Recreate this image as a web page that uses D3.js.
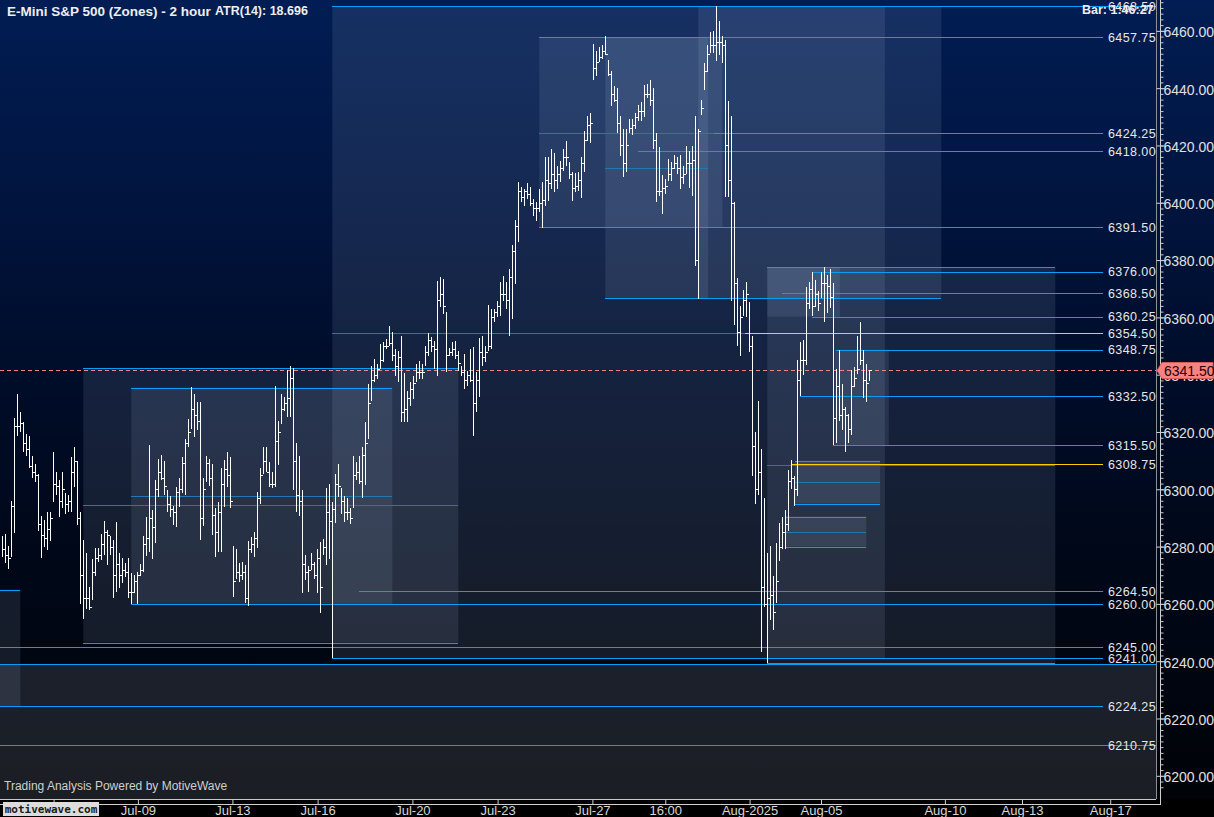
<!DOCTYPE html>
<html><head><meta charset="utf-8">
<script src="https://cdn.jsdelivr.net/npm/d3@7/dist/d3.min.js"></script>
<style>html,body{margin:0;padding:0;background:#000;overflow:hidden}</style>
</head><body>
<script>
// ---------- DATA ----------
const highs=[6283.8,6284.5,6280.3,6296.0,6324.8,6333.2,6326.9,6323.4,6319.2,6318.5,
6311.5,6308.7,6305.5,6290.8,6289.4,6292.2,6291.9,6312.9,6305.9,6303.4,
6305.9,6298.8,6298.1,6311.1,6314.9,6309.7,6292.2,6282.4,6277.9,6266.0,
6275.8,6279.6,6279.6,6284.5,6289.1,6285.9,6283.8,6282.4,6288.7,6277.9,
6276.1,6274.4,6276.1,6270.9,6270.2,6271.2,6274.0,6283.8,6290.5,6315.3,
6292.9,6303.4,6310.4,6311.8,6309.7,6299.9,6297.8,6294.3,6300.9,6303.8,
6311.1,6317.4,6324.4,6335.6,6333.2,6330.4,6330.4,6303.8,6311.5,6310.4,
6308.7,6293.6,6295.4,6307.6,6310.1,6312.9,6311.1,6280.3,6279.3,6274.4,
6274.7,6273.6,6282.1,6283.5,6285.2,6299.2,6307.6,6314.9,6314.6,6309.4,
6305.9,6335.9,6323.7,6333.2,6332.1,6341.6,6343.0,6342.3,6316.0,6311.5,
6299.9,6277.1,6273.3,6277.9,6274.7,6279.3,6281.7,6282.8,6300.6,6302.0,
6295.4,6305.2,6308.7,6300.6,6297.8,6297.1,6293.6,6311.5,6309.4,6311.5,
6314.6,6323.4,6336.6,6343.0,6345.4,6343.7,6350.6,6351.3,6352.4,6356.9,
6354.8,6348.9,6348.2,6353.4,6340.5,6334.2,6337.4,6339.4,6343.7,6344.7,
6343.7,6349.9,6354.5,6353.1,6351.7,6372.7,6374.1,6373.4,6361.9,6349.2,
6351.3,6351.7,6348.2,6343.0,6347.2,6341.2,6348.9,6349.6,6340.9,6352.7,
6353.4,6349.9,6364.3,6362.9,6362.9,6365.7,6372.4,6374.5,6372.4,6376.9,
6385.3,6394.0,6407.4,6405.6,6404.9,6407.0,6405.6,6401.4,6400.4,6404.9,
6407.4,6415.8,6415.8,6418.6,6417.2,6413.0,6414.7,6418.9,6421.4,6414.4,
6410.9,6410.5,6410.9,6416.1,6424.9,6430.4,6431.2,6455.3,6452.9,6454.2,
6454.9,6458.1,6449.7,6445.9,6440.6,6440.2,6430.4,6425.6,6425.9,6429.4,
6429.1,6431.2,6434.0,6435.0,6441.0,6441.3,6442.7,6440.2,6424.2,6419.6,
6409.8,6408.4,6415.1,6414.4,6416.5,6415.8,6416.5,6413.0,6419.9,6418.2,
6419.9,6430.4,6425.9,6435.7,6448.7,6454.9,6459.5,6459.9,6468.5,6463.4,
6458.1,6456.7,6435.4,6430.4,6400.4,6373.8,6363.9,6369.6,6372.4,6365.3,
6353.4,6319.9,6330.7,6314.2,6297.1,6277.9,6280.3,6269.8,6281.4,6288.4,
6290.5,6292.9,6306.6,6310.1,6304.8,6345.0,6351.3,6352.0,6370.6,6372.4,
6375.9,6373.1,6369.2,6375.9,6377.6,6374.8,6376.9,6372.0,6341.9,6348.6,
6336.6,6328.6,6326.2,6341.6,6342.6,6353.4,6358.4,6348.6,6343.7,6341.6];
const lows=[6276.4,6274.4,6272.3,6276.4,6284.9,6318.5,6319.9,6312.9,6311.5,6307.6,
6304.1,6302.4,6285.6,6276.1,6279.9,6278.9,6282.1,6295.4,6298.1,6290.5,
6293.6,6291.2,6291.9,6292.2,6300.9,6287.7,6260.0,6254.8,6258.3,6257.9,
6261.4,6269.8,6274.7,6275.4,6277.1,6273.6,6277.1,6262.1,6264.2,6265.6,
6267.4,6269.5,6262.1,6260.0,6263.9,6260.0,6269.8,6271.2,6276.8,6278.2,
6275.8,6281.4,6297.4,6303.1,6298.1,6291.9,6290.5,6287.7,6286.9,6293.9,
6298.8,6298.1,6314.6,6320.9,6318.1,6320.6,6282.4,6287.3,6302.7,6301.3,
6284.2,6276.4,6278.2,6278.2,6293.9,6300.9,6293.3,6262.4,6268.8,6267.7,
6268.4,6260.3,6259.3,6277.9,6276.4,6279.6,6294.7,6305.2,6305.9,6300.9,
6300.6,6300.9,6308.3,6322.7,6327.2,6325.1,6325.1,6299.9,6291.9,6290.8,
6263.9,6268.4,6264.2,6271.9,6268.8,6263.9,6256.9,6277.1,6273.6,6275.8,
6241.0,6288.4,6297.4,6291.2,6288.7,6289.4,6288.0,6293.3,6303.4,6302.0,
6297.1,6301.6,6317.4,6330.7,6337.4,6338.4,6341.9,6344.4,6348.9,6349.9,
6344.7,6339.4,6337.4,6323.4,6323.4,6323.4,6328.9,6331.4,6337.4,6338.4,
6338.4,6342.9,6346.5,6347.9,6341.9,6339.4,6363.6,6361.2,6340.9,6346.5,
6346.5,6345.4,6341.2,6339.4,6334.9,6335.9,6337.4,6318.5,6326.9,6332.1,
6343.0,6344.4,6348.2,6348.9,6358.4,6360.1,6360.5,6365.7,6362.9,6353.4,
6359.4,6371.7,6386.4,6400.4,6398.9,6401.4,6398.9,6395.5,6393.7,6396.8,
6391.3,6398.9,6400.7,6404.9,6403.9,6404.9,6407.4,6411.2,6413.0,6408.4,
6400.7,6403.9,6404.2,6401.8,6410.9,6421.4,6421.0,6442.7,6444.1,6449.3,
6450.1,6451.4,6444.1,6433.9,6435.0,6424.5,6416.4,6409.1,6410.9,6424.2,
6423.5,6425.9,6428.7,6428.4,6429.8,6436.4,6433.9,6418.9,6400.4,6402.4,
6396.1,6403.2,6407.7,6407.7,6411.9,6410.2,6404.9,6406.6,6410.2,6405.3,
6402.4,6377.9,6366.4,6430.8,6439.2,6445.5,6452.2,6452.2,6449.4,6451.4,
6448.7,6402.1,6402.1,6365.7,6357.3,6350.0,6346.5,6360.5,6360.1,6347.9,
6304.5,6294.7,6298.1,6243.2,6258.9,6239.5,6254.4,6250.9,6260.4,6275.1,
6279.3,6279.3,6285.6,6300.2,6294.3,6297.8,6332.4,6339.8,6343.3,6362.9,
6360.5,6363.6,6362.2,6366.8,6358.4,6361.5,6363.3,6315.6,6316.3,6323.7,
6320.6,6312.9,6316.0,6318.8,6335.6,6340.2,6343.3,6331.7,6330.4,6337.7];
const closes=[6279,6277,6276,6294,6322,6322,6323,6316,6314,6308,
6306,6305,6288,6284,6283,6286,6290,6302,6301,6296,
6300,6295,6296,6306,6310,6290,6270,6262,6262,6259,
6271,6276,6277,6281,6285,6284,6280,6270,6274,6270,
6272,6271,6264,6264,6268,6270,6272,6281,6283,6290,
6287,6300,6306,6304,6301,6295,6293,6292,6299,6300,
6309,6316,6320,6328,6326,6324,6290,6300,6309,6304,
6291,6285,6292,6302,6307,6305,6296,6268,6271,6270,
6271,6262,6279,6281,6283,6297,6305,6310,6306,6302,
6302,6317,6320,6328,6330,6332,6339,6310,6298,6296,
6274,6271,6272,6274,6270,6276,6266,6280,6292,6289,
6293,6302,6301,6296,6292,6292,6290,6305,6306,6303,
6312,6316,6330,6338,6340,6342,6345,6350,6350,6351,
6347,6343,6346,6327,6328,6332,6335,6337,6341,6341,
6341,6348,6352,6350,6349,6366,6368,6364,6347,6348,
6349,6347,6344,6341,6338,6340,6338,6330,6338,6348,
6346,6348,6350,6360,6362,6364,6368,6368,6366,6374,
6383,6392,6404,6402,6404,6403,6400,6398,6398,6400,
6401,6408,6407,6410,6408,6410,6412,6416,6416,6410,
6405,6406,6408,6414,6422,6427,6428,6447,6449,6451,
6453,6452,6445,6438,6436,6428,6420,6414,6420,6426,
6427,6430,6432,6432,6438,6438,6436,6422,6404,6404,
6405,6406,6410,6412,6414,6412,6409,6410,6414,6414,
6415,6380,6425,6433,6446,6452,6455,6455,6456,6456,
6455,6420,6408,6400,6372,6355,6360,6366,6368,6350,
6315,6300,6306,6266,6260,6262,6263,6257,6268,6280,
6285,6288,6303,6304,6300,6338,6345,6345,6365,6370,
6364,6368,6365,6372,6372,6371,6367,6325,6336,6326,
6328,6326,6321,6336,6339,6342,6345,6338,6337,6341.5];

// x-axis ticks (bar index) and labels
const xTickIdx=[17.1,45.2,76.7,105.1,136.7,165.1,196.7,221.0,249.1,272.9,314.2,339.9,369.3];
const xTickLabels=["Jul-06","Jul-09","Jul-13","Jul-16","Jul-20","Jul-23","Jul-27","16:00","Aug-2025","Aug-05","Aug-10","Aug-13","Aug-17"];
const yTickValues=d3.range(6200,6461,20);
const yMinorValues=d3.range(6196,6472,2);

// zones: [startBar, endBar, top, bottom]
const zones=[
 [27,152,6342.25,6246.5],
 [43,130,6335.5,6260],
 [110,294.2,6468.5,6241],
 [179,240,6457.75,6391.5],
 [201,235.3,6457.75,6366.75],
 [232,313,6468.5,6366.75],
 [255,351,6377.5,6239.35],
 [255,279.2,6377.5,6360.25],
 [277.6,295.5,6348.75,6315.5],
 [264.2,292.6,6310,6295],
 [261,288,6290.5,6280],
 [-1,6,6265,6224.25]
];
const lowerZone=[-1,386,6239,6150];

// labelled levels: [price, startBar, kind]  (kind: b=blue, d=dim, y=yellow)
const levelLines=[
 [6468.50,110,"b"],[6457.75,179,"b"],[6424.25,179,"d"],[6424.25,237.3,"b"],
 [6418.00,212,"b"],[6391.50,179,"b"],[6376.00,270,"b"],[6368.50,260,"b"],
 [6360.25,270,"b"],[6354.50,110,"d"],[6354.50,247.5,"y"],[6348.75,278,"b"],
 [6332.50,266,"b"],[6315.50,277,"b"],[6308.75,263,"y"],[6264.50,119,"b"],
 [6260.00,43,"b"],[6245.00,-1,"b"],[6241.00,110,"b"],[6224.25,-1,"b"],[6210.75,-1,"b"]
];
const levelLabels=[6468.50,6457.75,6424.25,6418.00,6391.50,6376.00,6368.50,6360.25,6354.50,6348.75,6332.50,6315.50,6308.75,6264.50,6260.00,6245.00,6241.00,6224.25,6210.75];
const fullWidthLevels=[6468.50,6210.75];
// zone edge / mid segments: [price, startBar, endBar, kind]
const segments=[
 [6342.25,27,152,"b"],[6294.4,27,152,"d"],[6246.5,27,152,"b"],
 [6335.5,43,130,"b"],[6297.75,43,130,"d"],
 [6412.25,201,235.3,"d"],[6366.75,201,313,"b"],
 [6377.5,255,351,"b"],[6308.4,255,351,"d"],[6239.35,255,351,"b"],
 [6239.0,-1,386,"b"],[6265,-1,6,"b"],
 [6310,264.2,292.6,"b"],[6302.5,264.2,292.6,"d"],[6295,264.2,292.6,"b"],
 [6290.5,261,288,"b"],[6285.2,261,288,"d"],[6280,261,288,"b"]
];
const lastPrice=6341.50;
const title="E-Mini S&P 500 (Zones) - 2 hour";
const atrText="ATR(14): 18.696";
const barText="Bar: 1:46:27";

// ---------- DRAW ----------
const W=1214,H=817, PR=1156, PB=799, LABEL_X=1103;
const FONT="'Liberation Sans', Arial, Helvetica, sans-serif";
const svg=d3.select("body").append("svg").attr("width",W).attr("height",H).style("display","block");
const defs=svg.append("defs");
const g=defs.append("linearGradient").attr("id","bg").attr("x1",0).attr("y1",0).attr("x2",0).attr("y2",1);
[[0,"#011d53"],[0.2,"#011643"],[0.42,"#000e2d"],[0.65,"#00081a"],[0.9,"#00040c"],[1,"#000205"]].forEach(s=>g.append("stop").attr("offset",s[0]).attr("stop-color",s[1]));
defs.append("clipPath").attr("id","plot").append("rect").attr("x",0).attr("y",0).attr("width",PR).attr("height",PB);

svg.append("rect").attr("width",W).attr("height",H).attr("fill","url(#bg)");
svg.append("rect").attr("x",0).attr("y",PB).attr("width",W).attr("height",H-PB).attr("fill","#000");

const x=d3.scaleLinear().domain([0,289]).range([2.3,869.3]);
const y=d3.scaleLinear().domain([6200,6460]).range([775.8,30.85]);

const plot=svg.append("g").attr("clip-path","url(#plot)");
plot.append("rect").attr("x",x(lowerZone[0])).attr("width",x(lowerZone[1])-x(lowerZone[0]))
 .attr("y",y(lowerZone[2])).attr("height",y(lowerZone[3])-y(lowerZone[2]))
 .attr("fill","rgb(200,212,228)").attr("fill-opacity",0.135);
plot.selectAll("rect.zone").data(zones).enter().append("rect").attr("class","zone")
 .attr("x",d=>x(d[0])).attr("width",d=>x(d[1])-x(d[0]))
 .attr("y",d=>y(d[2])).attr("height",d=>y(d[3])-y(d[2]))
 .attr("fill","rgb(190,210,235)").attr("fill-opacity",0.11);

const col={b:"#0a9df7",d:"#2278b0",y:"#ffcc00"};
const py=v=>Math.round(y(v))+0.5;
const lines=plot.append("g").attr("shape-rendering","crispEdges");
lines.selectAll("line.seg").data(segments).enter().append("line").attr("class","seg")
 .attr("x1",d=>x(d[1])).attr("x2",d=>x(d[2])).attr("y1",d=>py(d[0])).attr("y2",d=>py(d[0]))
 .attr("stroke",d=>col[d[3]]).attr("stroke-width",1);
lines.selectAll("line.lvl").data(levelLines).enter().append("line").attr("class","lvl")
 .attr("x1",d=>x(d[1])).attr("x2",d=>fullWidthLevels.includes(d[0])?PR:LABEL_X)
 .attr("y1",d=>py(d[0])).attr("y2",d=>py(d[0]))
 .attr("stroke",d=>col[d[2]]).attr("stroke-width",1);

plot.append("line").attr("x1",0).attr("x2",PR).attr("y1",py(lastPrice)).attr("y2",py(lastPrice))
 .attr("stroke","#f08484").attr("stroke-dasharray","4,3").attr("shape-rendering","crispEdges");

const bars=plot.append("g").attr("stroke","#fff").attr("stroke-width",1).attr("shape-rendering","crispEdges");
highs.forEach((h,i)=>{
  const xx=Math.round(x(i))+0.5;
  bars.append("line").attr("x1",xx).attr("x2",xx).attr("y1",y(h)).attr("y2",y(lows[i]));
  const c=Math.max(lows[i],Math.min(h,closes[i]));
  const cy=Math.round(y(c))+0.5;
  bars.append("line").attr("x1",xx).attr("x2",xx+2).attr("y1",cy).attr("y2",cy);
});

svg.append("g").selectAll("text").data(levelLabels).enter().append("text")
 .attr("x",1108).attr("y",d=>y(d)).attr("dy","0.38em")
 .attr("font-family",FONT).attr("font-size",12.5).attr("fill","#e6e6e6").attr("letter-spacing",0.4)
 .text(d=>d.toFixed(2));

svg.append("line").attr("x1",PR+0.5).attr("x2",PR+0.5).attr("y1",0).attr("y2",PB).attr("stroke","#8a8f96");
svg.append("line").attr("x1",0).attr("x2",PR).attr("y1",PB+0.5).attr("y2",PB+0.5).attr("stroke","#c8c8c8");

const ya=svg.append("g").attr("transform","translate(1160.5,0)")
 .call(d3.axisRight(y).tickValues(yMinorValues).tickSize(3).tickFormat(""));
ya.select(".domain").remove();
ya.selectAll("line").attr("stroke","#c8c8c8");
const yb=svg.append("g").attr("transform","translate(1160.5,0)")
 .call(d3.axisRight(y).tickValues(yTickValues).tickSize(4).tickPadding(0).tickFormat(d3.format(".2f")));
yb.select(".domain").attr("d","M0,0V804").attr("stroke","#d0d0d0");
yb.selectAll("line").attr("stroke","#d0d0d0").attr("x1",-4);
yb.selectAll("text").attr("font-family",FONT).attr("font-size",14).attr("fill","#e0e0e0").attr("x",3).attr("dy","0.42em");

const xa=svg.append("g").attr("transform","translate(0,804.5)")
 .call(d3.axisBottom(x).tickValues(xTickIdx).tickSize(-5).tickPadding(1).tickFormat((d,i)=>xTickLabels[i]));
xa.select(".domain").attr("d","M0,0H1161").attr("stroke","#d0d0d0");
xa.selectAll("line").attr("stroke","#d0d0d0");
xa.selectAll("text").attr("font-family",FONT).attr("font-size",13).attr("fill","#d8d8d8").attr("y",1).attr("dy","0.72em");

const cy=py(lastPrice);
svg.append("path").attr("d",`M1157,${cy} L1162,${cy-8} L1213,${cy-8} L1213,${cy+8} L1162,${cy+8} Z`)
 .attr("fill","#f58383").attr("stroke","#d25c5c");
svg.append("text").attr("x",1164).attr("y",cy).attr("dy","0.36em").attr("font-family",FONT)
 .attr("font-size",14).attr("fill","#2a0000").text(lastPrice.toFixed(2));

svg.append("text").attr("x",7).attr("y",16).attr("font-family",FONT).attr("font-weight","bold")
 .attr("font-size",13.5).attr("fill","#eeeeee").text(title);
svg.append("text").attr("x",215).attr("y",15).attr("font-family",FONT).attr("font-weight","bold")
 .attr("font-size",12.5).attr("fill","#eeeeee").text(atrText);
svg.append("text").attr("x",1082).attr("y",14).attr("font-family",FONT).attr("font-weight","bold")
 .attr("font-size",12.5).attr("fill","#eeeeee").text(barText);
svg.append("text").attr("x",4).attr("y",790).attr("font-family",FONT)
 .attr("font-size",12).attr("fill","#cfcfcf").text("Trading Analysis Powered by MotiveWave");
svg.append("rect").attr("x",3).attr("y",802).attr("width",96).attr("height",14).attr("fill","#dcdcdc");
svg.append("text").attr("x",51).attr("y",813).attr("text-anchor","middle").attr("font-family","'DejaVu Sans Mono', monospace")
 .attr("font-weight","bold").attr("font-size",11).attr("fill","#1a1a1a").text("motivewave.com");
</script>
</body></html>
